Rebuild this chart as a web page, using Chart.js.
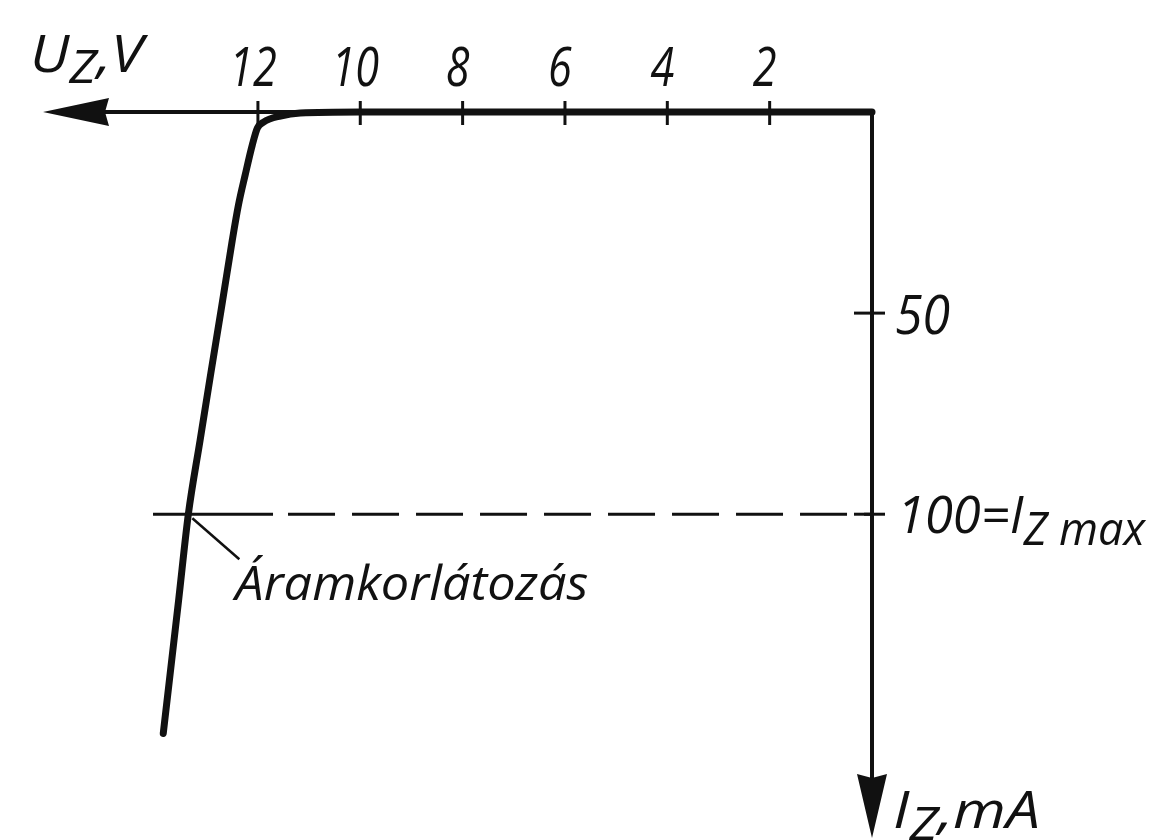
<!DOCTYPE html>
<html>
<head>
<meta charset="utf-8">
<title>Zener karakterisztika</title>
<script src="https://cdn.jsdelivr.net/npm/chart.js@4.4.1/dist/chart.umd.min.js"></script>
<style>
  html, body { margin: 0; padding: 0; background: #fff; }
  #wrap { width: 1151px; height: 840px; position: relative; }
</style>
</head>
<body>
<div id="wrap"><canvas id="zener"></canvas></div>
<script>
// reverse characteristic of the zener diode: U_Z in volts, I_Z in mA
const uzVolts = [0, 4, 8, 10, 11.17, 11.56, 11.89, 12.01, 12.11, 12.25, 12.38, 12.5, 12.71, 12.92, 13.13, 13.36, 13.55, 13.85];
const izMilliamps = [0, 0, 0, 0, 0.25, 1.0, 2.5, 4.0, 8.2, 15.7, 23.1, 31.8, 48.5, 64.9, 81.6, 100, 121.4, 154.5];

const uTicks = [2, 4, 6, 8, 10, 12];
const iTicks = [50, 100];
const izMax = 100;
const limitSpan = [14.05, 0];   // the I_Z max line runs between these voltages
const limitPoint = [13.36, 100]; // current limiting point on the curve

const uRange = [0, 16.2];
const iRange = [0, 180.5];

const INK = '#111';
const FONT = '"Open Sans", "DejaVu Sans", sans-serif';

function fontOf(size) {
  return 'italic 400 ' + size + 'px ' + FONT;
}

// draws text pieces left to right, each piece is [text, size, dy];
// the whole run is squeezed or stretched to the given width
function textRun(ctx, pieces, x, y, width) {
  ctx.save();
  let natural = 0;
  pieces.forEach(([t, size]) => {
    ctx.font = fontOf(size);
    natural += ctx.measureText(t).width;
  });
  ctx.restore();
  const sx = width / natural;
  let cx = x;
  pieces.forEach(([t, size, dy]) => {
    ctx.save();
    ctx.font = fontOf(size);
    ctx.fillStyle = INK;
    ctx.textBaseline = 'alphabetic';
    ctx.textAlign = 'left';
    ctx.translate(cx, y + (dy || 0));
    ctx.scale(sx, 1);
    ctx.fillText(t, 0, 0);
    cx += ctx.measureText(t).width * sx;
    ctx.restore();
  });
}

function centered(ctx, t, x, y, size, sx) {
  ctx.save();
  ctx.font = fontOf(size);
  const w = ctx.measureText(t).width * sx;
  ctx.restore();
  textRun(ctx, [[t, size, 0]], x - w / 2, y, w);
}

const axesPlugin = {
  id: 'zenerAxes',
  afterDatasetsDraw(chart) {
    const ctx = chart.ctx;
    const xs = chart.scales.x, ys = chart.scales.y;
    const ox = xs.getPixelForValue(0), oy = ys.getPixelForValue(0);
    const xEnd = xs.getPixelForValue(uRange[1]);
    const yEnd = ys.getPixelForValue(iRange[1]);

    ctx.save();
    ctx.strokeStyle = INK;
    ctx.fillStyle = INK;
    ctx.lineCap = 'butt';

    // axes
    ctx.lineWidth = 4;
    ctx.beginPath();
    ctx.moveTo(xEnd + 60, oy);
    ctx.lineTo(ox, oy);
    ctx.lineTo(ox, yEnd - 60);
    ctx.stroke();

    // arrow heads
    ctx.beginPath();
    ctx.moveTo(xEnd, oy);
    ctx.lineTo(xEnd + 66, oy - 14);
    ctx.lineTo(xEnd + 62, oy);
    ctx.lineTo(xEnd + 66, oy + 14);
    ctx.closePath();
    ctx.fill();
    ctx.beginPath();
    ctx.moveTo(ox, yEnd);
    ctx.lineTo(ox - 15, yEnd - 64);
    ctx.lineTo(ox, yEnd - 60);
    ctx.lineTo(ox + 15, yEnd - 64);
    ctx.closePath();
    ctx.fill();

    // tick marks
    ctx.lineWidth = 3;
    uTicks.forEach(v => {
      const px = xs.getPixelForValue(v);
      ctx.beginPath();
      ctx.moveTo(px, oy - 11);
      ctx.lineTo(px, oy + 13);
      ctx.stroke();
    });
    iTicks.forEach(v => {
      const py = ys.getPixelForValue(v);
      ctx.beginPath();
      ctx.moveTo(ox - 18, py);
      ctx.lineTo(ox + 13, py);
      ctx.stroke();
    });

    // leader to the current limiting point
    const lx = xs.getPixelForValue(limitPoint[0]);
    const ly = ys.getPixelForValue(limitPoint[1]);
    ctx.lineWidth = 2.5;
    ctx.beginPath();
    ctx.moveTo(lx + 4, ly + 4);
    ctx.lineTo(lx + 51, ly + 45);
    ctx.stroke();
    ctx.restore();

    // tick labels
    uTicks.forEach(v => {
      centered(ctx, String(v), xs.getPixelForValue(v) - 5, oy - 26, 54, 0.8);
    });
    textRun(ctx, [['50', 54, 0]], ox + 23, ys.getPixelForValue(50) + 21, 55);
    textRun(ctx, [['100=I', 52, 0], ['Z max', 46, 12]], ox + 25, ys.getPixelForValue(izMax) + 19, 248);

    // axis titles
    textRun(ctx, [['U', 52, 0], ['Z', 46, 11], [',V', 52, 0]], xEnd - 13, oy - 40, 113);
    textRun(ctx, [['I', 52, 0], ['Z', 46, 12], [',mA', 52, 0]], ox + 21, yEnd - 10, 147);

    // annotation
    textRun(ctx, [['Áramkorlátozás', 48, 0]], lx + 47, ly + 86, 353);
  }
};

new Chart(document.getElementById('zener'), {
  type: 'scatter',
  data: {
    datasets: [
      {
        data: uzVolts.map((u, i) => ({ x: u, y: izMilliamps[i] })),
        showLine: true,
        borderColor: INK,
        borderWidth: 7,
        pointRadius: 0,
        cubicInterpolationMode: 'monotone',
        borderCapStyle: 'round',
        borderJoinStyle: 'round',
        clip: false
      },
      {
        data: limitSpan.map(u => ({ x: u, y: izMax })),
        showLine: true,
        borderColor: INK,
        borderWidth: 3,
        borderDash: [120, 15, 47, 17, 47, 17, 47, 17, 47, 17, 47, 17, 47, 17, 47, 17, 47, 17, 47, 17, 47, 17],
        pointRadius: 0,
        clip: false
      }
    ]
  },
  options: {
    responsive: true,
    maintainAspectRatio: false,
    animation: false,
    layout: { padding: { left: 43, right: 279, top: 112, bottom: 2 } },
    plugins: { legend: { display: false }, tooltip: { enabled: false } },
    scales: {
      x: { type: 'linear', min: uRange[0], max: uRange[1], reverse: true, display: false },
      y: { type: 'linear', min: iRange[0], max: iRange[1], reverse: true, display: false }
    }
  },
  plugins: [axesPlugin]
});
</script>
</body>
</html>
